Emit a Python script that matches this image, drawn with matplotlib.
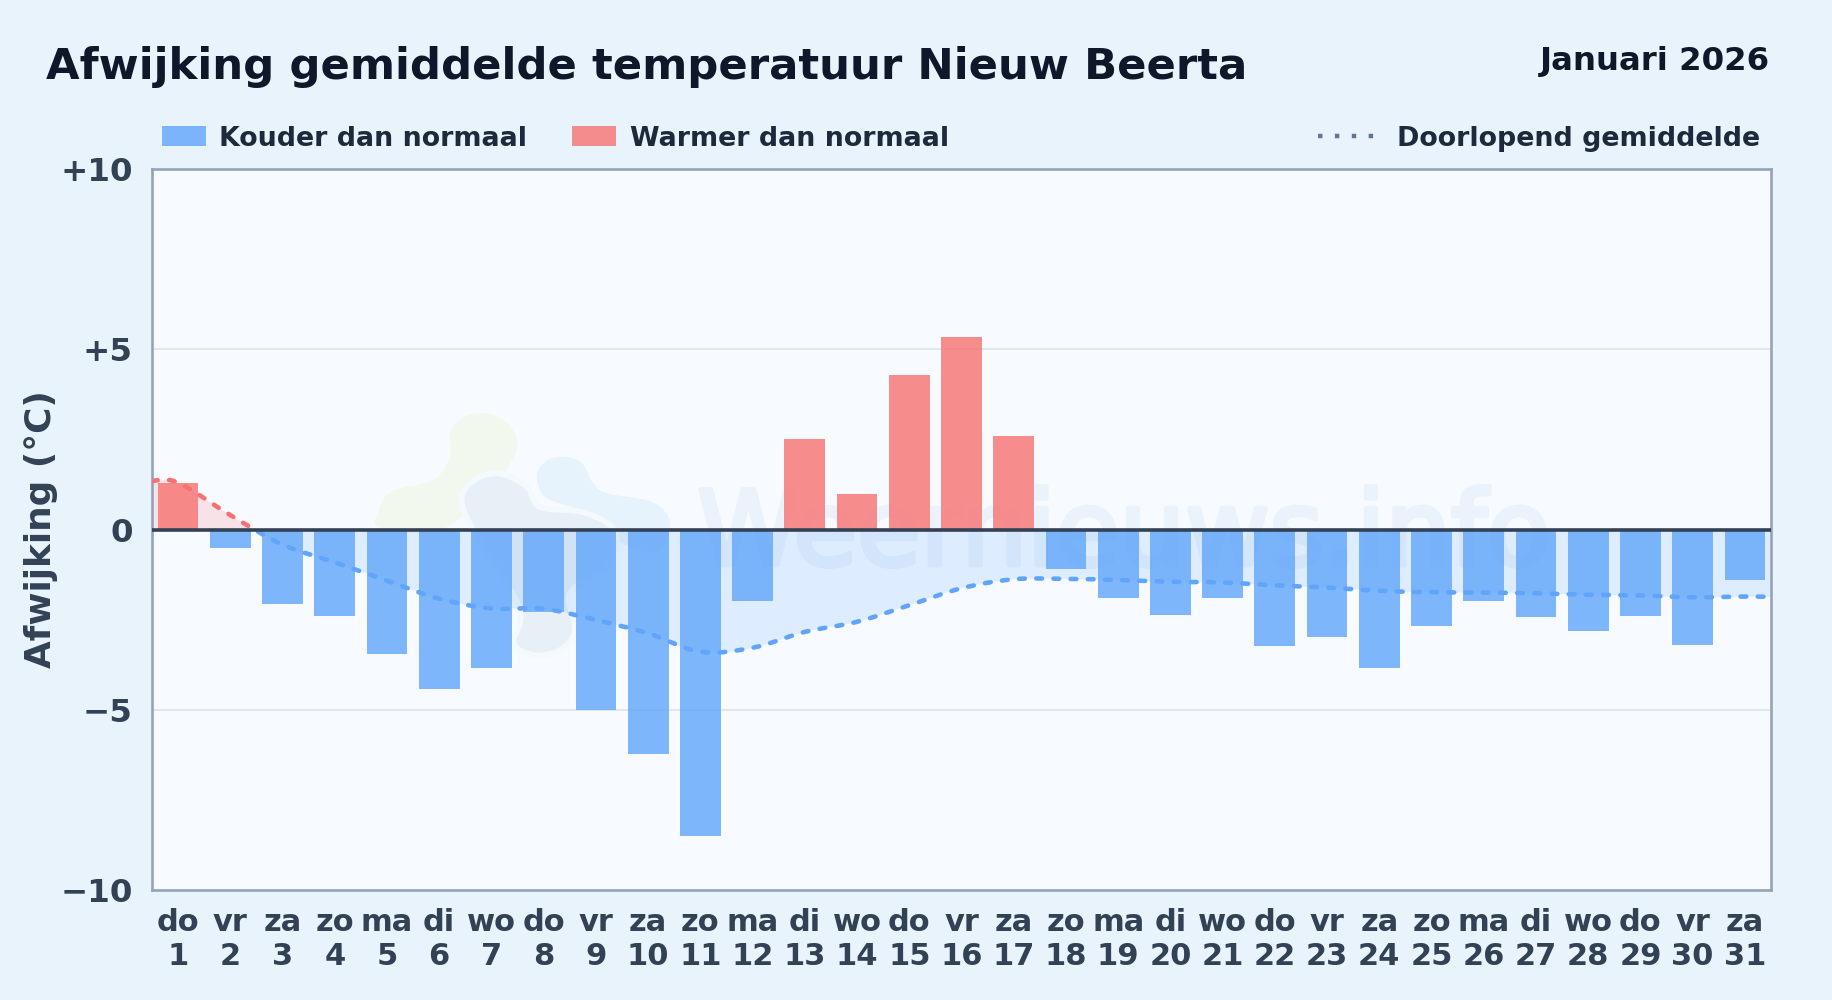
import matplotlib.pyplot as plt
import matplotlib.patheffects as pe
from matplotlib.lines import Line2D
from matplotlib.patches import PathPatch, Rectangle
from matplotlib.path import Path

days = list(range(1, 32))
weekdays = ["do", "vr", "za", "zo", "ma", "di", "wo", "do", "vr", "za", "zo", "ma", "di", "wo", "do", "vr",
            "za", "zo", "ma", "di", "wo", "do", "vr", "za", "zo", "ma", "di", "wo", "do", "vr", "za"]
deviation = [1.3, -0.5, -2.08, -2.4, -3.45, -4.42, -3.85, -2.3, -5.0, -6.22, -8.5, -1.97, 2.5, 0.98, 4.28, 5.35,
             2.6, -1.1, -1.9, -2.38, -1.9, -3.23, -2.97, -3.85, -2.67, -1.97, -2.42, -2.82, -2.4, -3.2, -1.4]
running_x = [0.5] + days + [31.5]
running = [1.35, 1.3, 0.4, -0.42, -0.91, -1.42, -1.92, -2.19, -2.2, -2.51, -2.88, -3.39, -3.28, -2.84, -2.56,
           -2.1, -1.63, -1.38, -1.37, -1.4, -1.45, -1.47, -1.55, -1.61, -1.7, -1.74, -1.75, -1.77, -1.81,
           -1.83, -1.88, -1.86, -1.87]
y_ticks = [-10, -5, 0, 5, 10]
y_labels = ["\u221210", "\u22125", "0", "+5", "+10"]

BLUE = "#60a5fa"
RED = "#f87171"
W, H = 1832, 1000


def smooth(xs, ys, closed=False):
    # catmull-rom through the points, written as bezier segments
    pts = list(zip(xs, ys))
    n = len(pts)
    verts = [pts[0]]
    codes = [Path.MOVETO]
    for i in range(n if closed else n - 1):
        if closed:
            p0, p1, p2, p3 = pts[i - 1], pts[i], pts[(i + 1) % n], pts[(i + 2) % n]
        else:
            p0, p1, p2, p3 = pts[max(i - 1, 0)], pts[i], pts[i + 1], pts[min(i + 2, n - 1)]
        verts.append((p1[0] + (p2[0] - p0[0]) / 6, p1[1] + (p2[1] - p0[1]) / 6))
        verts.append((p2[0] - (p3[0] - p1[0]) / 6, p2[1] - (p3[1] - p1[1]) / 6))
        verts.append(p2)
        codes += [Path.CURVE4] * 3
    return verts, codes


fig = plt.figure(figsize=(W / 100, H / 100), dpi=100, facecolor="#e8f3fc")
ax = fig.add_axes([152 / W, 1 - 890 / H, (1771 - 152) / W, (890 - 169) / H], facecolor="#f7fbff")
ax.set_xlim(0.5, 31.5)
ax.set_ylim(-10, 10)

# watermark behind everything
blobs = [
    ("#f3f8ef", "none", [(484, 413), (505, 421), (517, 440), (512, 460), (490, 490), (440, 530), (380, 528), (379, 510),
                         (392, 491), (433, 480), (450, 457), (450, 433), (463, 418)]),
    ("#e6f3fd", "none", [(565, 457), (582, 463), (591, 480), (606, 493), (652, 502), (670, 523), (657, 552), (616, 540),
                         (586, 513), (550, 500), (540, 490), (537, 473), (548, 460)]),
    ("#e7eff7", "#f4f9fe", [(501, 474), (527, 487), (540, 507), (586, 513), (616, 533), (606, 567), (570, 593), (575, 630),
                            (560, 650), (535, 655), (514, 643), (519, 607), (473, 530), (462, 497), (478, 478)]),
]
for colour, edge, outline in blobs:
    verts, codes = smooth([p[0] / W for p in outline], [1 - p[1] / H for p in outline], closed=True)
    ax.add_patch(PathPatch(Path(verts, codes), transform=fig.transFigure, fc=colour, ec=edge, lw=4, zorder=0.5))
mark = ax.text(1124 / W, 1 - 565 / H, "Weernieuws.info", transform=fig.transFigure, ha="center", va="baseline",
               fontsize=74.5, color="#eaf3fc", zorder=0.6)
mark.set_path_effects([pe.withStroke(linewidth=3.5, foreground="#eaf3fc")])

ax.grid(axis="y", color="#dfe7ec", linewidth=1.4, zorder=1)
ax.set_axisbelow(True)

# area between running mean and zero, plus the dotted line, split at zero
verts, codes = smooth(running_x, running)
area = Path(verts + [(running_x[-1], 0), (running_x[0], 0), (running_x[0], 0)],
            codes + [Path.LINETO, Path.LINETO, Path.CLOSEPOLY])
line = Path(verts, codes)
for colour, y0, y1 in [(RED, 0, 10), (BLUE, -10, 0)]:
    clip = Rectangle((0.5, y0), 31, y1 - y0, transform=ax.transData)
    fill = PathPatch(area, fc=colour, ec="none", alpha=0.17, zorder=2)
    ax.add_patch(fill)
    fill.set_clip_path(clip)
    dotted = PathPatch(line, fc="none", ec=colour, lw=3.3, linestyle=(0, (1.25, 2.5)), capstyle="round", zorder=5)
    ax.add_patch(dotted)
    dotted.set_clip_path(clip)

bar_colours = [RED if v >= 0 else BLUE for v in deviation]
ax.bar(days, deviation, width=0.78, color=bar_colours, alpha=0.8, zorder=3)
ax.axhline(0, color="#334155", linewidth=2.6, zorder=6)

for s in ax.spines.values():
    s.set_color("#94a3b8")
    s.set_linewidth(1.9)
ax.set_yticks(y_ticks, y_labels)
ax.set_xticks(days, [f"{w}\n{d}" for w, d in zip(weekdays, days)])
ax.tick_params(axis="y", length=0, pad=14, labelsize=23.4, labelcolor="#334155")
ax.tick_params(axis="x", length=0, pad=13, labelsize=22, labelcolor="#334155")
for lab in ax.get_xticklabels() + ax.get_yticklabels():
    lab.set_fontweight("bold")
ax.set_ylabel("Afwijking (\u00b0C)", fontsize=25.8, fontweight="bold", color="#334155")
ax.yaxis.set_label_coords((58 - 152) / (1771 - 152), 0.5)

fig.text(46 / W, 1 - 79 / H, "Afwijking gemiddelde temperatuur Nieuw Beerta", fontsize=31.2, fontweight="bold",
         color="#0f172a", ha="left", va="baseline")
fig.text(1770 / W, 1 - 70 / H, "Januari 2026", fontsize=23.3, fontweight="bold", color="#0f172a",
         ha="right", va="baseline")

legend_font = {"size": 19.4, "weight": "bold"}
left = ax.legend(handles=[Rectangle((0, 0), 1, 1, fc=BLUE, alpha=0.8), Rectangle((0, 0), 1, 1, fc=RED, alpha=0.8)],
                 labels=["Kouder dan normaal", "Warmer dan normaal"], ncols=2, frameon=False, prop=legend_font,
                 labelcolor="#1e293b", loc="center left", bbox_to_anchor=(161.5 / W, 1 - 138.5 / H),
                 bbox_transform=fig.transFigure, borderpad=0, borderaxespad=0, handlelength=1.65,
                 handleheight=0.72, handletextpad=0.5, columnspacing=1.65)
ax.add_artist(left)
ax.legend(handles=[Line2D([], [], color="#64748b", lw=3.2, dash_capstyle="butt", linestyle=(0, (1.0, 2.8)))],
          labels=["Doorlopend gemiddelde"], frameon=False, prop=legend_font, labelcolor="#1e293b",
          loc="center right", bbox_to_anchor=(1760 / W, 1 - 138.5 / H), bbox_transform=fig.transFigure,
          borderpad=0, borderaxespad=0, handlelength=2.07, handletextpad=0.85)

fig.savefig("out.png", dpi=100, facecolor=fig.get_facecolor())
